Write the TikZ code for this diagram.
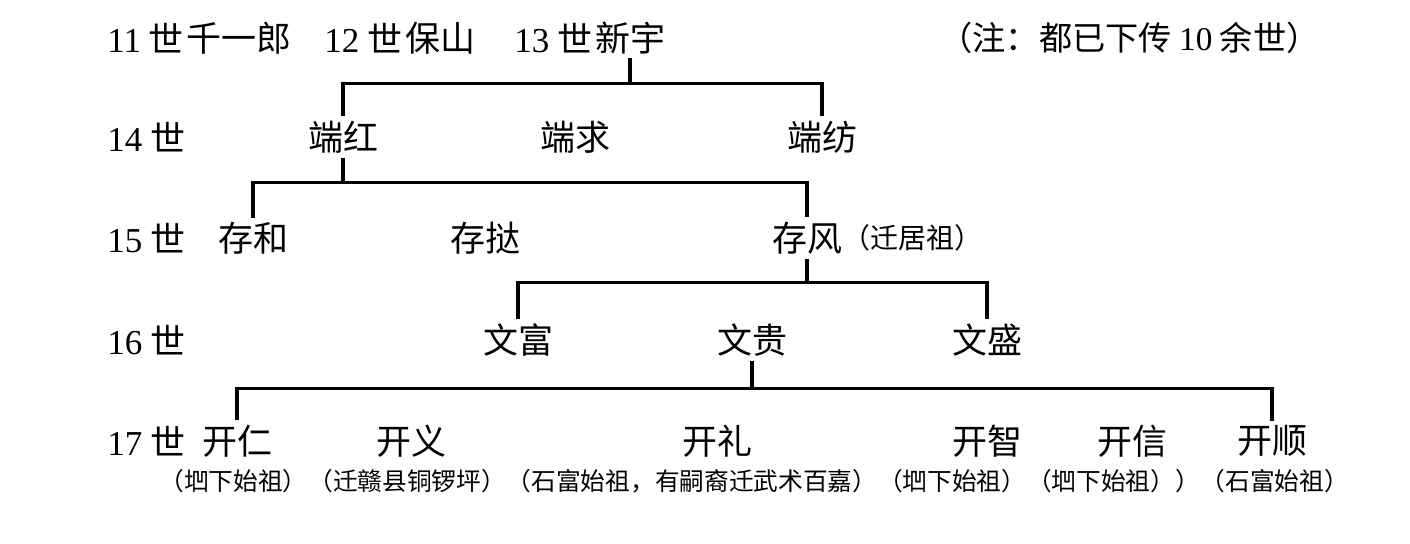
\documentclass[tikz,border=0pt]{standalone}
\usepackage{fontspec}
\setmainfont{Liberation Serif}
\newfontfamily\cjk{Noto Sans CJK SC}
\usetikzlibrary{positioning}
\newcommand{\gnum}[1]{{\rmfamily #1}}

\tikzset{
  person/.style={font={\cjk\fontsize{17.5}{18}\selectfont},inner sep=2pt},
  gen/.style={font={\cjk\fontsize{17.5}{18}\selectfont},inner sep=2pt,anchor=west},
  remark/.style={font={\cjk\fontsize{12.35}{13}\selectfont},inner sep=0pt},
  link/.style={line width=1.6pt}
}

\begin{document}
\begin{tikzpicture}[x=0.5pt,y=-0.5pt]
\useasboundingbox (0,0) rectangle (1410,544);

% 11-13 generations
\node[gen] (g11) at (103,38) {\gnum{11} 世};
\node[person,right=-3pt of g11] (qianyilang) {千一郎};
\node[gen] (g12) at (320,38) {\gnum{12} 世};
\node[person,right=-3pt of g12] (baoshan) {保山};
\node[gen] (g13) at (510,38) {\gnum{13} 世};
\node[person,right=-3pt of g13] (xinyu) {新宇};
\node[gen,font={\cjk\fontsize{16.6}{17}\selectfont}] (zhu) at (935,38) {（注：都已下传 \gnum{10} 余世）};

% generation labels
\node[gen] (g14) at (103,137) {\gnum{14} 世};
\node[gen] (g15) at (103,238) {\gnum{15} 世};
\node[gen] (g16) at (103,340) {\gnum{16} 世};
\node[gen] (g17) at (103,441) {\gnum{17} 世};

% 14
\node[person] (duanhong) at (343,137) {端红};
\node[person] (duanqiu) at (575,137) {端求};
\node[person] (duanfang) at (822,137) {端纺};

% 15
\node[person] (cunhe) at (253,238) {存和};
\node[person] (cunta) at (485,238) {存挞};
\node[person] (cunfeng) at (807,238) {存风};
\node[remark,right=-2pt of cunfeng,font={\cjk\fontsize{14}{15}\selectfont}] (qianjuzu) {（迁居祖）};

% 16
\node[person] (wenfu) at (518,340) {文富};
\node[person] (wengui) at (752,340) {文贵};
\node[person] (wensheng) at (987,340) {文盛};

% 17
\node[person] (kairen) at (237,441) {开仁};
\node[person] (kaiyi) at (411,441) {开义};
\node[person] (kaili) at (717,441) {开礼};
\node[person] (kaizhi) at (987,441) {开智};
\node[person] (kaixin) at (1132,441) {开信};
\node[person] (kaishun) at (1272,441) {开顺};

\node[remark,anchor=west] (r1) at (159,481) {（垇下始祖）};
\node[remark,right=0pt of r1] (r2) {（迁赣县铜锣坪）};
\node[remark,right=0pt of r2] (r3) {（石富始祖，有嗣裔迁武术百嘉）};
\node[remark,right=0pt of r3] (r4) {（垇下始祖）};
\node[remark,right=0pt of r4] (r5) {（垇下始祖））};
\node[remark,right=0pt of r5] (r6) {（石富始祖）};

% connectors
\draw[link] (xinyu.south) -- ++(0,25) coordinate (b13);
\draw[link] (duanhong.north) |- (b13) -| (duanfang.north);

\draw[link] (duanhong.south) -- ++(0,25) coordinate (b14);
\draw[link] (cunhe.north) |- (b14) -| (cunfeng.north);

\draw[link] (cunfeng.south) -- ++(0,24) coordinate (b15);
\draw[link] (wenfu.north) |- (b15) -| (wensheng.north);

\draw[link] (wengui.south) -- ++(0,28) coordinate (b16);
\draw[link] (kairen.north) |- (b16) -| (kaishun.north);
\end{tikzpicture}
\end{document}
